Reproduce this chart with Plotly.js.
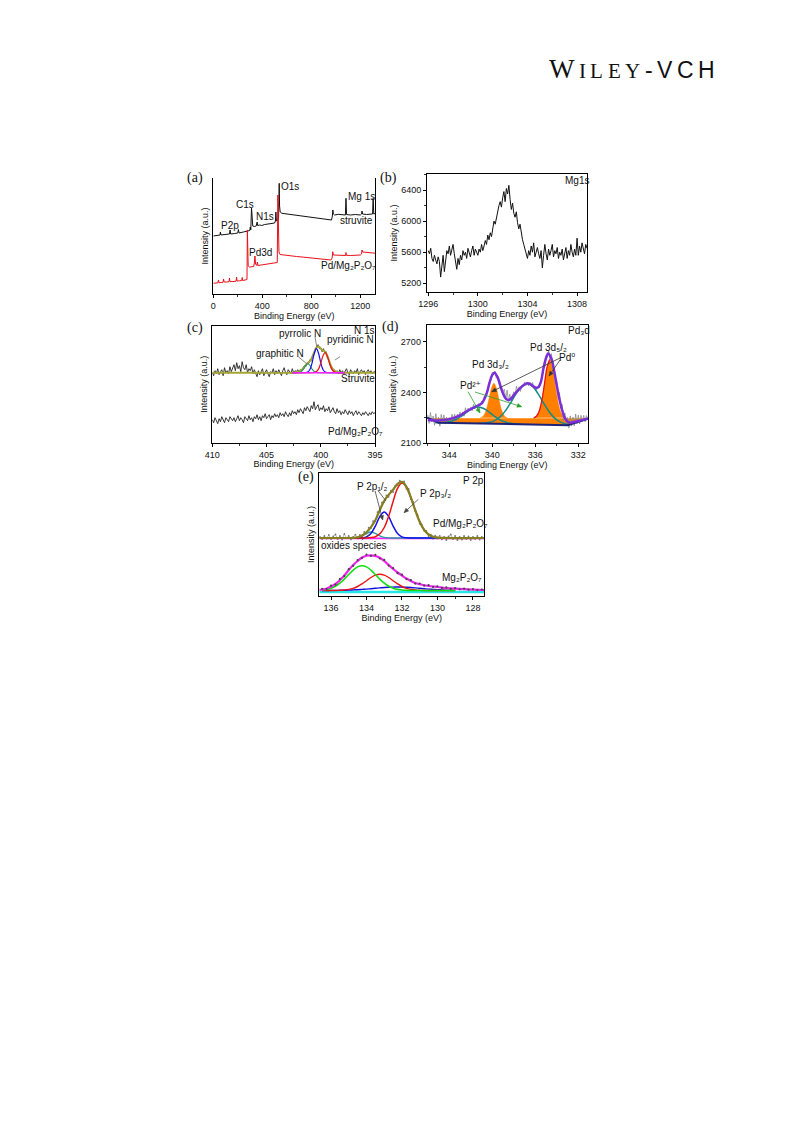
<!DOCTYPE html>
<html><head><meta charset="utf-8">
<script src="https://cdn.plot.ly/plotly-3.0.1.min.js"></script>
<style>html,body{margin:0;padding:0;background:#fff;}#chart{width:793px;height:1121px;}</style>
</head><body><div id="chart"></div>
<script>
// ---------- (a) survey spectra ----------
const aStruvE = [0,30,55,58,62,95,132,137,142,175,200,205,210,245,270,290,298,302,306,312,316,322,335,350,358,362,380,395,420,450,480,500,507,511,515,528,533,538,541,546,560,600,650,700,750,800,850,900,950,965,972,976,980,990,1020,1050,1078,1083,1088,1120,1160,1200,1210,1214,1218,1250,1280,1300,1305,1310,1320];
const aStruvI = [58,58.5,59,62,59,59.5,60,64,60,60.5,61,64.5,61,62,62.5,63,63.5,67,64,86,70,68,67.5,68,72,68.5,69,68.5,69.5,70,70.5,71,73,82,73,74,77,110.7,88,82,80.7,80,79,78.5,77.5,77,76,75,74.5,74,78,84,80,79,79.7,79.5,79,95.7,79.5,79,79.5,79,80,83,80,79.5,79.8,80,95.7,80,80.5];
const aPdE = [0,20,38,42,46,70,80,84,88,110,128,132,136,160,186,190,194,215,232,236,240,260,275,278,281,285,295,310,330,335,340,345,355,360,364,390,420,450,480,510,522,527,531,536,545,570,620,680,740,800,860,920,960,970,975,980,1000,1030,1060,1080,1083,1086,1120,1160,1200,1210,1214,1220,1250,1280,1300,1320];
const aPdI = [10.7,11,11.2,14,11.3,11.5,11.8,15,12,12,12.3,16,12.4,12.5,12.8,17,13,13.2,13.5,16.5,13.5,14,14.5,64,32,28,27,27.3,27.5,31,38,30,28.5,32,28.5,29,29.5,30,30.5,31,31.5,99,50,42,39.5,39,38.3,37.5,36.8,36,35.2,34.5,34,36,42.3,39,39,38.8,38.7,38.5,41.5,38.7,38.5,38.8,39,40,44,42,41.7,41.2,41,40.8];
const aTicks = [0,400,800,1200];

// ---------- (b) Mg1s ----------
const bStart = 1296.0, bStep = 0.1;
const bMg = [5620,5580,5650,5520,5480,5560,5500,5450,5540,5480,
 5280,5450,5560,5350,5500,5620,5580,5680,5560,5640,
 5700,5580,5480,5380,5520,5440,5560,5500,5620,5560,
 5600,5520,5650,5580,5540,5620,5680,5560,5640,5600,
 5560,5640,5600,5700,5620,5680,5750,5700,5820,5760,
 5850,5800,5920,6000,5960,6050,6120,6200,6250,6180,
 6300,6380,6250,6420,6350,6460,6280,6150,6230,6100,
 6050,6120,5980,5900,5960,5820,5760,5700,5640,5600,
 5520,5620,5560,5680,5600,5720,5540,5600,5660,5580,
 5520,5620,5400,5560,5700,5580,5500,5640,5560,5620,
 5700,5540,5620,5580,5660,5520,5600,5560,5640,5500,
 5580,5660,5520,5620,5560,5700,5600,5540,5640,5560,
 5780,5560,5680,5600,5720,5640,5580,5700,5650];
const bTicks = [1296,1300,1304,1308];
const bYTicks = [5200,5600,6000,6400];

// ---------- (c) N 1s ----------
const cStart = 410, cStep = -0.125;
const cStruvRaw = [70,67,72,69,74,68,71,73,67,75,70,72,69,76,71,74,
 78,72,80,74,77,71,81,75,73,78,70,74,72,76,69,73,
 70,66,72,68,71,74,67,70,73,69,66,71,70,74,68,72,
 69,73,70,67,72,75,70,68,73,71,69,74,70,72,71,73,
 71,73,72,75,77,76,80,79,83,82,88,89,94,95,98,94,
 95,91,94,90,91,84,83,77,76,72,73,70,72,69,73,70,
 72,69,71,74,70,68,73,71,69,72,70,74,68,71,73,70,
 72,69,71,73,70,72,69,71,72];
const cPdRaw = [23,20,25,22,19,24,21,26,22,20,25,23,21,26,24,22,
 25,21,24,27,22,25,23,20,26,24,22,27,23,25,21,26,
 24,28,23,26,22,27,25,29,24,26,28,23,27,25,29,26,
 28,25,30,27,29,26,31,28,26,30,27,32,29,31,28,33,
 30,34,31,29,35,32,36,33,31,37,34,41,33,36,38,32,
 35,33,37,31,34,32,36,30,33,35,31,29,34,30,32,28,
 31,29,33,30,28,32,29,31,27,30,32,28,31,29,27,30,
 28,31,29,27,30,28,31,29,30];
const cFitE = [402.6,402.4,402.2,402.0,401.8,401.6,401.4,401.2,401.0,400.8,400.6,400.4,400.2,400.0,399.8,399.6,399.4,399.2,399.0,398.8,398.6,398.4,398.2,398.0,397.8];
const cGraphitic = [70,70,70,70.3,71.2,73.7,77.2,79,77.2,73.7,71.2,70.3,70,70,70,70,70,70,70,70,70,70,70,70,70];
const cPyrrolic = [70,70,70,70,70,70,70.1,70.7,73.2,79.9,89.2,94,89.2,79.9,73.2,70.7,70.1,70,70,70,70,70,70,70,70];
const cPyridinic = [70,70,70,70,70,70,70,70,70,70,70.2,71.1,73.8,79.6,86.7,90,86.7,79.6,73.8,71.1,70.2,70,70,70,70];
const cEnvE = [410,402.6,402.4,402.2,402.0,401.8,401.6,401.4,401.2,401.0,400.8,400.6,400.4,400.2,400.0,399.8,399.6,399.4,399.2,399.0,398.8,398.6,398.4,398.2,398.0,397.8,395];
const cEnvI = [70,70,70.2,70.5,71.3,72.5,74.2,77.3,79.8,81.6,85,90.5,95.3,96.2,94.2,92.3,90.8,87,81,75.5,72.5,71,70.3,70,70,70,70];
const cBaseE = [402.6,397.8];
const cBaseI = [70,70];
const cTicks = [410,405,400,395];

// ---------- (d) Pd 3d ----------
const dStart = 346.0, dStep = -0.125;
const dRaw = [2268,2218,2282,2226,2261,2206,2275,2220,2255,2201,2271,2232,2268,2214,2255,2221,
 2253,2230,2272,2240,2272,2230,2273,2257,2285,2255,2285,2260,2310,2280,2309,2294,
 2313,2292,2330,2304,2323,2306,2335,2325,2350,2337,2380,2375,2410,2415,2465,2473,
 2520,2509,2527,2485,2495,2455,2455,2412,2405,2420,2355,2415,2350,2390,2350,2385,
 2405,2384,2438,2406,2435,2407,2444,2436,2463,2442,2460,2439,2462,2441,2460,2425,
 2435,2415,2440,2440,2475,2490,2545,2552,2615,2610,2650,2595,2630,2545,2545,2450,
 2465,2370,2400,2307,2330,2232,2280,2224,2253,2190,2262,2203,2255,2202,2273,2215,
 2267,2214,2266,2227,2265,2227,2264,2241];
const dNavyE = [346.07,345.0,333.0,331.1];
const dNavyI = [2252,2222,2207,2245];
const dFlatE = [346.07,331.1];
const dFlatI = [2248,2248];
const dPd32E = [341.1,340.85,340.6,340.35,340.1,339.85,339.6,339.35,339.1,338.85,338.6];
const dPd32I = [2250.5,2260,2290,2350,2421,2455,2421,2350,2290,2260,2250.5];
const dPd52E = [336.15,335.9,335.65,335.4,335.15,334.9,334.65,334.4,334.15,333.9,333.65,333.4,333.15];
const dPd52I = [2250.6,2260,2288,2351,2450,2552,2596,2552,2450,2351,2288,2260,2250.6];
const dTeal1E = [345.3,344.8,344.3,343.8,343.3,342.8,342.3,341.8,341.3,340.8,340.3,339.8,339.3,338.8,338.3,337.8,337.3];
const dTeal1I = [2222,2223,2225,2231,2244,2263,2287,2307,2315,2306,2285,2260,2239,2226,2218,2215,2213];
const dTeal2E = [341.25,340.75,340.25,339.75,339.25,338.75,338.25,337.75,337.25,336.75,336.25,335.75,335.25,334.75,334.25,333.75,333.25,332.75];
const dTeal2I = [2218,2220,2224,2236,2258,2295,2344,2397,2438,2454,2437,2394,2340,2290,2252,2228,2216,2210];
const dEnvE = [346.0,345.5,345.0,344.5,344.0,343.5,343.0,342.5,342.0,341.5,341.0,340.75,340.5,340.25,340.0,339.8,339.5,339.25,339.0,338.75,338.5,338.25,338.0,337.5,337.0,336.75,336.5,336.25,336.0,335.75,335.5,335.25,335.0,334.8,334.5,334.25,334.0,333.75,333.5,333.25,333.0,332.75,332.5,332.0,331.5,331.1];
const dEnvI = [2238,2236,2235,2238,2243,2252,2265,2285,2303,2318,2335,2360,2400,2460,2505,2518,2490,2440,2395,2365,2355,2365,2385,2420,2448,2455,2452,2440,2430,2430,2460,2540,2605,2632,2600,2530,2440,2360,2295,2250,2228,2222,2225,2232,2240,2247];
const dTicks = [344,340,336,332];
const dYTicks = [2100,2400,2700];

// ---------- (e) P 2p ----------
const eStart = 136.625, eStep = -0.125;
const ePdRaw = [59,57,60,57.5,61,57,59.5,61.5,57,60,56.5,62,58,60,56.6,59.1,61.3,57.6,61,
 59.5,64.1,62.3,68.3,67.9,74.8,74.8,83.8,86.8,93.5,94.1,100.7,99.2,105.3,103.9,110.3,110.7,115.3,113.1,114.5,
 107.2,107,97,94,84.7,81.3,72.2,71,65.2,65.2,60,61.3,57.3,60.3,57.4,60.2,56.6,
 59,56,59.5,61.5,57,60,56,59,56.5,60,57,59.5,56,59,57,60,56.5,59,57.5];
const eFitE = [135.0,134.75,134.5,134.25,134.0,133.75,133.5,133.25,133.0,132.75,132.5,132.25,132.0,131.75,131.5,131.25,131.0,130.75,130.5,130.25,130.0,129.75];
const eP32 = [58,58,58,58.1,58.1,58.4,59.3,62.2,68.5,79.7,94.5,107.7,113,109,98.5,85.7,74.2,66.2,61.5,59.3,58.4,58.1];
const eP12 = [58,58,58,58.2,59.1,62.5,69.9,79.4,84,79.4,69.9,62.5,59.1,58.2,58,58,58,58,58,58,58,58];
const eOxide = [58,58.1,58.6,60.2,62.6,64,62.6,60.2,58.6,58.1,58,58,58,58,58,58,58,58,58,58,58,58];
const eEnvE = [136.66,135.0,134.75,134.5,134.25,134.0,133.75,133.5,133.25,133.0,132.75,132.5,132.25,132.0,131.75,131.5,131.25,131.0,130.75,130.5,130.25,130.0,129.75,127.36];
const eEnvI = [58,58,58.1,58.7,60.5,63.8,68.9,75.8,85.8,95.1,101.2,106.4,112.2,114.1,109.2,98.5,85.7,74.2,66.2,61.5,59.3,58.4,58.1,58];
const eBaseUE = [136.66,127.36];
const eBaseUI = [57.6,57.6];
const eLowE = [136.5,136.25,136.0,135.75,135.5,135.25,135.0,134.75,134.5,134.25,134.0,133.75,133.5,133.25,133.0,132.75,132.5,132.25,132.0,131.75,131.5,131.25,131.0,130.75,130.5,130.25,130.0,129.75,129.5,129.25,129.0];
const eLowGreen = [6.0,6.6,7.8,9.8,12.8,16.9,21.5,25.9,29.1,30.3,29.1,25.9,21.5,16.9,12.8,9.8,7.8,6.6,6.0,5.7,5.5,5.5,5.5,5.5,5.5,5.5,5.5,5.5,5.5,5.5,5.5];
const eLowRed = [5.5,5.5,5.5,5.5,5.7,6.0,6.6,7.7,9.5,12.2,15.3,18.5,20.8,21.7,20.8,18.5,15.3,12.2,9.5,7.7,6.6,6.0,5.7,5.5,5.5,5.5,5.5,5.5,5.5,5.5,5.5];
const eLowBlue = [5.5,5.5,5.6,5.6,5.7,5.8,5.9,6.1,6.3,6.6,6.9,7.3,7.7,8.1,8.5,8.8,8.9,9.0,8.9,8.8,8.5,8.1,7.7,7.3,6.9,6.6,6.3,6.1,5.9,5.8,5.7];
const eMagE = [136.66,136.5,136.25,136.0,135.75,135.5,135.25,135.0,134.75,134.5,134.25,134.0,133.75,133.5,133.25,133.0,132.75,132.5,132.25,132.0,131.75,131.5,131.25,131.0,130.5,130.0,129.5,129.0,128.5,128.0,127.36];
const eMagI = [6,6.5,7.5,9.5,12,16,20.5,26,31,35,38.5,40.3,40.7,40,38.2,35,31,27,23.5,20.5,17.5,15,13,11.8,10,9,8,7.3,6.8,6.4,6];
const eCyanE = [136.66,127.36];
const eCyanI = [4,4];
const eLowRawStart = 136.5, eLowRawStep = -0.25;
const eLowRaw = [7.2,6.9,10.3,11.4,16.8,19.9,26.8,30.2,35.9,38.0,41.5,40.0,41.2,37.5,36.1,30.4,27.9,22.8,21.3,16.9,15.8,12.4,12.5,10.3,10.8,9.0,9.7,8.1,8.6,7.2,7.9,6.7,7.3,6.3,6.9,5.9,6.5];
const eTicks = [136,134,132,130,128];

// ---------- layout helpers ----------
const W = 793, H = 1121;
const F = 'Liberation Sans, Arial, DejaVu Sans, sans-serif';
const FS = 'Liberation Serif, Times New Roman, serif';
const px = x => x / W, py = y => 1 - y / H;
function axis(d0, d1, range, extra, horiz) {
  const dom = horiz ? [px(d0), px(d1)] : [py(d1), py(d0)];
  return Object.assign({
    domain: dom, range: range, showline: true, linecolor: '#000', linewidth: 1, mirror: true,
    ticks: 'outside', ticklen: 3, tickwidth: 1, tickcolor: '#000', showgrid: false, zeroline: false,
    tickfont: {family: F, size: 9, color: '#111'}, fixedrange: true
  }, extra);
}
const xTitle = {text: 'Binding Energy (eV)', font: {family: F, size: 9, color: '#111'}, standoff: 1};
const yTitle = {text: 'Intensity (a.u.)', font: {family: F, size: 9, color: '#111'}, standoff: 2};
function minor(dt) { return {ticks: 'outside', ticklen: 2, tickwidth: 0.8, tickcolor: '#000', dtick: dt}; }

const layout = {
  width: W, height: H, margin: {l: 0, r: 0, t: 0, b: 0},
  paper_bgcolor: '#fff', plot_bgcolor: 'rgba(0,0,0,0)', showlegend: false, hovermode: false,
  xaxis: axis(213.3, 375, [0, 1320], {anchor: 'y', mirror: false, tickvals: aTicks, minor: minor(200), title: xTitle}, true),
  yaxis: axis(178, 294, [0, 116], {anchor: 'x', ticks: '', showticklabels: false, title: yTitle}, false),
  xaxis2: axis(427, 587, [1295.9, 1308.8], {anchor: 'y2', tickvals: bTicks, minor: minor(2), title: xTitle}, true),
  yaxis2: axis(174, 292, [5088, 6606], {anchor: 'x2', tickvals: bYTicks, minor: minor(200), title: yTitle}, false),
  xaxis3: axis(212.3, 375, [410, 395], {anchor: 'y3', tickvals: cTicks, minor: minor(2.5), title: xTitle}, true),
  yaxis3: axis(325.7, 442.7, [0, 117], {anchor: 'x3', ticks: '', showticklabels: false, title: yTitle}, false),
  xaxis4: axis(426.7, 588, [346.1, 331.1], {anchor: 'y4', tickvals: dTicks, minor: minor(2), title: xTitle}, true),
  yaxis4: axis(325, 443.3, [2100, 2800], {anchor: 'x4', tickvals: dYTicks, minor: minor(150), title: yTitle}, false),
  xaxis5: axis(319.3, 484.3, [136.66, 127.36], {anchor: 'y5', tickvals: eTicks, minor: minor(1), title: xTitle}, true),
  yaxis5: axis(473, 596, [0, 123], {anchor: 'x5', ticks: '', showticklabels: false, title: yTitle}, false),
  annotations: [], shapes: []
};

function lab(text, x, y, o) {
  return Object.assign({text: text, x: px(x), y: py(y), xref: 'paper', yref: 'paper', showarrow: false,
    xanchor: 'center', yanchor: 'middle', font: {family: F, size: 10, color: '#111'}}, o || {});
}
const A = layout.annotations, S = layout.shapes;
// pointer lines (with optional arrow heads) drawn as shapes in page pixels
function pointer(hx, hy, tx, ty, color, head) {
  S.push({type: 'line', xref: 'paper', yref: 'paper', x0: px(tx), y0: py(ty), x1: px(hx), y1: py(hy), line: {color: color, width: 0.8}});
  if (head) {
    const dx = hx - tx, dy = hy - ty, L = Math.hypot(dx, dy), ux = dx / L, uy = dy / L;
    const bx = hx - 4.5 * ux, by = hy - 4.5 * uy, nx = -uy * 2, ny = ux * 2;
    const pts = [[hx, hy], [bx + nx, by + ny], [bx - nx, by - ny]];
    S.push({type: 'path', xref: 'paper', yref: 'paper', fillcolor: color, line: {color: color, width: 0.5},
      path: 'M' + pts.map(p => px(p[0]) + ',' + py(p[1])).join(' L') + ' Z'});
  }
}
// header (publisher mark), letter by letter
const hdrLetters = ['W','I','L','E','Y','-','V','C','H'];
const hdrX = [561.8, 582.5, 596.9, 614.2, 632.7, 648.7, 664.7, 685.1, 706.2];
const hdrY = [68.5, 70.5, 70.5, 70.5, 70.5, 70, 70, 70, 70];
const hdrSize = [27, 21, 21, 21, 21, 23, 23, 23, 23];
hdrLetters.forEach((c, i) => A.push(lab(c, hdrX[i], hdrY[i], {font: {family: i < 5 ? FS : F, size: hdrSize[i], color: '#111'}})));
// panel letters
[['(a)', 195, 178.5], ['(b)', 388, 178.5], ['(c)', 195, 327.5], ['(d)', 390, 327], ['(e)', 306, 477]].forEach(p =>
  A.push(lab(p[0], p[1], p[2], {font: {family: FS, size: 14, color: '#111'}})));
// (a)
A.push(lab('P2p', 230, 225)); A.push(lab('C1s', 245, 204.3)); A.push(lab('N1s', 264.5, 216.7));
A.push(lab('O1s', 289.5, 186.7)); A.push(lab('Mg 1s', 361.7, 196.7)); A.push(lab('struvite', 356.7, 220));
A.push(lab('Pd3d', 260.5, 252.3)); A.push(lab('Pd/Mg₂P₂O₇', 348.3, 265.7));
// (b)
A.push(lab('Mg1s', 576.7, 181));
// (c)
A.push(lab('pyrrolic N', 300, 333.3)); A.push(lab('N 1s', 364, 330)); A.push(lab('pyridinic N', 350.7, 339));
A.push(lab('graphitic N', 280, 353.3)); A.push(lab('Struvite', 358.3, 378.3));
A.push(lab('Pd/Mg₂P₂O₇', 355.3, 431.7));
pointer(307.3, 364.3, 298.3, 356.7, '#666', false);
pointer(316.7, 346.7, 315, 336.7, '#666', false);
pointer(335, 360, 340, 356.7, '#666', false);
// (d)
A.push(lab('Pd₃d', 579, 330));
A.push(lab('Pd 3d₃/₂', 490.7, 365)); A.push(lab('Pd 3d₅/₂', 548.3, 347.3));
A.push(lab('Pd⁰', 566.7, 357.7)); A.push(lab('Pd²⁺', 470.7, 385.7));
pointer(491.7, 391.7, 560, 358, '#333', true);
pointer(549, 376, 560, 360, '#333', true);
pointer(480, 413, 468, 391.7, '#2ca02c', true);
pointer(521.7, 406.7, 475, 392, '#2ca02c', true);
// (e)
A.push(lab('P 2p', 473.3, 480)); A.push(lab('P 2p₁/₂', 372.3, 486.7)); A.push(lab('P 2p₃/₂', 435.7, 493.3));
A.push(lab('Pd/Mg₂P₂O₇', 460.7, 523.3)); A.push(lab('oxides species', 354, 545));
A.push(lab('Mg₂P₂O₇', 462.3, 577.7));
pointer(382.7, 520, 375, 490.7, '#444', true);
pointer(386, 501, 378, 490.7, '#444', false);
pointer(404, 512.7, 418.3, 499.3, '#444', true);
pointer(370, 534, 361.7, 540, '#444', false);

// ---------- traces ----------
const t = [];
function ln(x, y, xa, ya, color, width, extra) {
  return Object.assign({x: x, y: y, xaxis: xa, yaxis: ya, mode: 'lines', line: {color: color, width: width}}, extra || {});
}
// (a)
t.push(ln(aStruvE, aStruvI, 'x', 'y', '#111', 1));
t.push(ln(aPdE, aPdI, 'x', 'y', '#e8101a', 1));
// (b)
t.push({y: bMg, x0: bStart, dx: bStep, xaxis: 'x2', yaxis: 'y2', mode: 'lines', line: {color: '#111', width: 1}});
// (c)
t.push({y: cStruvRaw, x0: cStart, dx: cStep, xaxis: 'x3', yaxis: 'y3', mode: 'lines', line: {color: '#222', width: 0.9}});
t.push({y: cPdRaw, x0: cStart, dx: cStep, xaxis: 'x3', yaxis: 'y3', mode: 'lines', line: {color: '#222', width: 0.9}});
t.push(ln(cEnvE, cEnvI, 'x3', 'y3', '#a5a535', 2, {line: {color: '#a5a535', width: 2, shape: 'spline'}}));
t.push(ln(cFitE, cGraphitic, 'x3', 'y3', '#1f9a6a', 1.1, {line: {color: '#1f9a6a', width: 1.1, shape: 'spline'}}));
t.push(ln(cFitE, cPyrrolic, 'x3', 'y3', '#1010ee', 1.2, {line: {color: '#1010ee', width: 1.2, shape: 'spline'}}));
t.push(ln(cFitE, cPyridinic, 'x3', 'y3', '#ee1111', 1.2, {line: {color: '#ee1111', width: 1.2, shape: 'spline'}}));
t.push(ln(cBaseE, cBaseI, 'x3', 'y3', '#ff22ff', 1.5));
// (d)
t.push(ln(dFlatE, dFlatI, 'x4', 'y4', '#ff8000', 0));
t.push(ln(dNavyE, dNavyI, 'x4', 'y4', '#ff8000', 0, {fill: 'tonexty', fillcolor: '#ff8000'}));
t.push(ln(dPd32E, dPd32I, 'x4', 'y4', '#ff8000', 0.5, {fill: 'toself', fillcolor: '#ff8000', line: {color: '#ff8000', width: 0.5, shape: 'spline'}}));
t.push(ln(dPd52E, dPd52I, 'x4', 'y4', '#ff8000', 0.5, {fill: 'toself', fillcolor: '#ff8000', line: {color: '#ff8000', width: 0.5, shape: 'spline'}}));
t.push({y: dRaw, x0: dStart, dx: dStep, xaxis: 'x4', yaxis: 'y4', mode: 'lines', line: {color: '#8a8a8a', width: 0.8}});
t.push(ln(dTeal1E, dTeal1I, 'x4', 'y4', '#168a86', 1.5, {line: {color: '#168a86', width: 1.5, shape: 'spline'}}));
t.push(ln(dTeal2E, dTeal2I, 'x4', 'y4', '#168a86', 1.5, {line: {color: '#168a86', width: 1.5, shape: 'spline'}}));
t.push(ln(dPd52E.slice(0, 7), dPd52I.slice(0, 7), 'x4', 'y4', '#ee1010', 1.3, {line: {color: '#ee1010', width: 1.3, shape: 'spline'}}));
t.push(ln(dNavyE, dNavyI, 'x4', 'y4', '#1c2378', 2));
t.push(ln(dEnvE, dEnvI, 'x4', 'y4', '#7a2fd8', 2.5, {line: {color: '#7a2fd8', width: 2.5, shape: 'spline'}}));
// (e) upper
t.push({y: ePdRaw, x0: eStart, dx: eStep, xaxis: 'x5', yaxis: 'y5', mode: 'lines+markers', line: {color: '#999', width: 0.7}, marker: {size: 1.8, color: '#777'}});
t.push(ln(eBaseUE, eBaseUI, 'x5', 'y5', '#ff22ff', 1.6));
t.push(ln(eFitE, eOxide, 'x5', 'y5', '#2a9aa0', 1.3, {line: {color: '#2a9aa0', width: 1.3, shape: 'spline'}}));
t.push(ln(eFitE, eP12, 'x5', 'y5', '#1010ee', 1.5, {line: {color: '#1010ee', width: 1.5, shape: 'spline'}}));
t.push(ln(eFitE, eP32, 'x5', 'y5', '#ee1111', 1.5, {line: {color: '#ee1111', width: 1.5, shape: 'spline'}}));
t.push(ln(eEnvE, eEnvI, 'x5', 'y5', '#85801f', 2.2, {line: {color: '#85801f', width: 2.2, shape: 'spline'}}));
// (e) lower
t.push(ln(eCyanE, eCyanI, 'x5', 'y5', '#22e8e8', 2.5));
t.push(ln(eLowE, eLowBlue, 'x5', 'y5', '#1010dd', 1.4, {line: {color: '#1010dd', width: 1.4, shape: 'spline'}}));
t.push(ln(eLowE, eLowRed, 'x5', 'y5', '#ee1111', 1.4, {line: {color: '#ee1111', width: 1.4, shape: 'spline'}}));
t.push(ln(eLowE, eLowGreen, 'x5', 'y5', '#11dd11', 1.6, {line: {color: '#11dd11', width: 1.6, shape: 'spline'}}));
t.push(ln(eMagE, eMagI, 'x5', 'y5', '#ee22ee', 2.2, {line: {color: '#ee22ee', width: 2.2, shape: 'spline'}}));
t.push({y: eLowRaw, x0: eLowRawStart, dx: eLowRawStep, xaxis: 'x5', yaxis: 'y5', mode: 'markers', marker: {size: 2.2, color: '#444'}});

Plotly.newPlot('chart', t, layout, {staticPlot: true, displayModeBar: false});
</script></body></html>
